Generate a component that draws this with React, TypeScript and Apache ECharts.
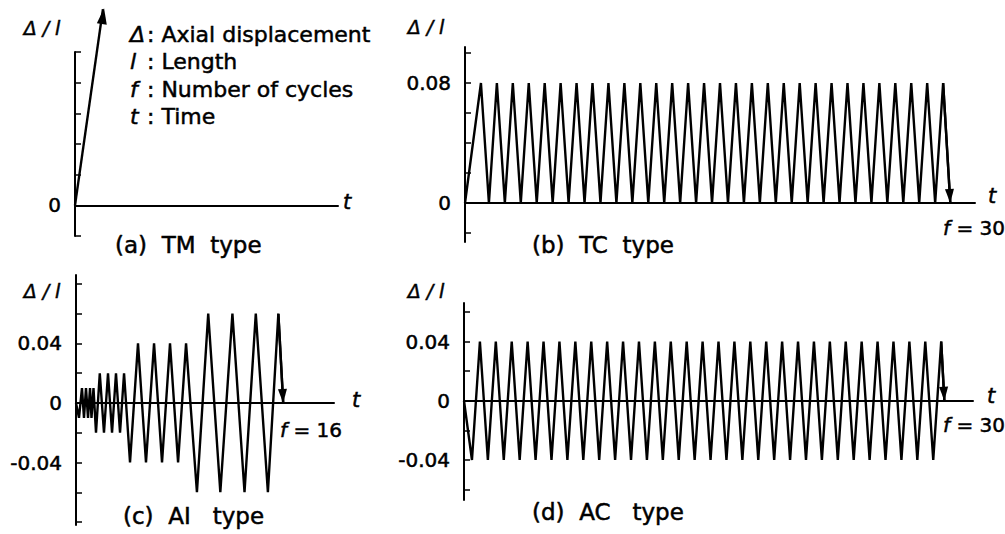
import React, { useEffect, useRef } from 'react';
import * as echarts from 'echarts';

const FONT = '"DejaVu Sans", "Liberation Sans", sans-serif';

// (a) TM type: monotonic loading
const tmTime = [0, 3.4];
const tmValue = [0, 6.4];

// (b) TC type: tension cyclic, 30 cycles between 0 and 0.08
const tcTime = [0, 1, 1.5, 2, 2.5, 3, 3.5, 4, 4.5, 5, 5.5, 6, 6.5, 7, 7.5, 8, 8.5, 9, 9.5, 10, 10.5, 11, 11.5, 12, 12.5, 13, 13.5, 14, 14.5, 15, 15.5, 16, 16.5, 17, 17.5, 18, 18.5, 19, 19.5, 20, 20.5, 21, 21.5, 22, 22.5, 23, 23.5, 24, 24.5, 25, 25.5, 26, 26.5, 27, 27.5, 28, 28.5, 29, 29.5, 30, 30.45];
const tcValue = [0, 0.08, 0, 0.08, 0, 0.08, 0, 0.08, 0, 0.08, 0, 0.08, 0, 0.08, 0, 0.08, 0, 0.08, 0, 0.08, 0, 0.08, 0, 0.08, 0, 0.08, 0, 0.08, 0, 0.08, 0, 0.08, 0, 0.08, 0, 0.08, 0, 0.08, 0, 0.08, 0, 0.08, 0, 0.08, 0, 0.08, 0, 0.08, 0, 0.08, 0, 0.08, 0, 0.08, 0, 0.08, 0, 0.08, 0, 0.08, 0];

// (c) AI type: amplitude increasing, 16 cycles
const aiTime = [0, 0.37, 0.74, 0.99, 1.24, 1.49, 1.74, 1.92, 2.17, 2.48, 2.95, 3.47, 3.97, 4.47, 4.96, 5.46, 5.96, 6.7, 7.69, 8.68, 9.68, 10.67, 11.66, 12.66, 13.65, 15.0, 16.4, 17.9, 19.4, 20.9, 22.3, 23.8, 25.1, 25.7];
const aiValue = [0, -0.01, 0.01, -0.01, 0.01, -0.01, 0.01, -0.01, 0.01, -0.02, 0.02, -0.02, 0.02, -0.02, 0.02, -0.02, 0.02, -0.04, 0.04, -0.04, 0.04, -0.04, 0.04, -0.04, 0.04, -0.06, 0.06, -0.06, 0.06, -0.06, 0.06, -0.06, 0.06, 0];

// (d) AC type: alternating cyclic, 30 cycles between -0.04 and 0.04
const acTime = [0, 0.5, 1, 1.5, 2, 2.5, 3, 3.5, 4, 4.5, 5, 5.5, 6, 6.5, 7, 7.5, 8, 8.5, 9, 9.5, 10, 10.5, 11, 11.5, 12, 12.5, 13, 13.5, 14, 14.5, 15, 15.5, 16, 16.5, 17, 17.5, 18, 18.5, 19, 19.5, 20, 20.5, 21, 21.5, 22, 22.5, 23, 23.5, 24, 24.5, 25, 25.5, 26, 26.5, 27, 27.5, 28, 28.5, 29, 29.5, 30, 30.2];
const acValue = [0, -0.04, 0.04, -0.04, 0.04, -0.04, 0.04, -0.04, 0.04, -0.04, 0.04, -0.04, 0.04, -0.04, 0.04, -0.04, 0.04, -0.04, 0.04, -0.04, 0.04, -0.04, 0.04, -0.04, 0.04, -0.04, 0.04, -0.04, 0.04, -0.04, 0.04, -0.04, 0.04, -0.04, 0.04, -0.04, 0.04, -0.04, 0.04, -0.04, 0.04, -0.04, 0.04, -0.04, 0.04, -0.04, 0.04, -0.04, 0.04, -0.04, 0.04, -0.04, 0.04, -0.04, 0.04, -0.04, 0.04, -0.04, 0.04, -0.04, 0.04, 0];

// axis ticks and labels
const tmTicks = [-1, 0, 1, 2, 3, 4, 5];
const tmLabels = [0];
const tcTicks = [-0.02, 0, 0.02, 0.04, 0.06, 0.08, 0.1];
const tcLabels = [0, 0.08];
const aiTicks = [-0.08, -0.06, -0.04, -0.02, 0, 0.02, 0.04, 0.06, 0.08];
const aiLabels = [-0.04, 0, 0.04];
const acTicks = [-0.06, -0.04, -0.02, 0, 0.02, 0.04, 0.06];
const acLabels = [-0.04, 0, 0.04];

const captions = ['(a)  TM  type', '(b)  TC  type', '(c)  AI   type', '(d)  AC   type'];
const legendSymbols = ['Δ', 'l', 'f', 't'];
const legendTexts = ['Axial displacement', 'Length', 'Number of cycles', 'Time'];
const cycleLabels = ['30', '16', '30'];

const grids = [
  { left: 75, top: 52, width: 263, height: 184 },
  { left: 465, top: 47, width: 510, height: 195 },
  { left: 76, top: 275, width: 258, height: 250 },
  { left: 464, top: 303, width: 509, height: 197 },
];
const yRanges = [
  [-1, 5],
  [-0.026, 0.104],
  [-0.082, 0.086],
  [-0.067, 0.066],
];
const tickSets = [tmTicks, tcTicks, aiTicks, acTicks];
const labelSets = [tmLabels, tcLabels, aiLabels, acLabels];

const LINE_W = 2.4;

function makeSeries(idx: number, times: number[], values: number[]) {
  const n = times.length;
  return {
    type: 'line',
    xAxisIndex: idx,
    yAxisIndex: idx,
    data: times.map((t, i) => [t, values[i]]),
    showSymbol: false,
    symbol: 'none',
    clip: false,
    silent: true,
    lineStyle: { color: '#000', width: LINE_W },
    markLine: {
      silent: true,
      animation: false,
      symbol: ['none', 'triangle'],
      symbolSize: [9, 14],
      symbolOffset: [[0, 0], [0, 7]],
      label: { show: false },
      emphasis: { disabled: true },
      lineStyle: { color: '#000', width: LINE_W, type: 'solid' },
      data: [[{ coord: [times[n - 2], values[n - 2]] }, { coord: [times[n - 1], values[n - 1]] }]],
    },
  };
}

// the TM arrow rises above its axis, so its head is the end point's own symbol
function makeTmSeries() {
  const n = tmTime.length;
  return {
    type: 'line',
    xAxisIndex: 0,
    yAxisIndex: 0,
    showSymbol: true,
    symbol: 'none',
    clip: false,
    silent: true,
    lineStyle: { color: '#000', width: LINE_W },
    itemStyle: { color: '#000' },
    data: tmTime.map((t, i) =>
      i === n - 1
        ? { value: [t, tmValue[i]], symbol: 'triangle', symbolSize: [10, 16], symbolRotate: -8, symbolOffset: [0, 7] }
        : { value: [t, tmValue[i]], symbol: 'none' }
    ),
  };
}

function txt(text: string, x: number, y: number, size: number, italic = false, align = 'left') {
  return {
    type: 'text',
    x,
    y,
    silent: true,
    style: {
      text,
      fill: '#000',
      stroke: '#000',
      lineWidth: 0.5,
      fontFamily: FONT,
      fontSize: size,
      fontStyle: italic ? 'italic' : 'normal',
      align,
      verticalAlign: 'middle',
    },
  };
}

function fLabel(value: string, x: number, y: number) {
  return {
    type: 'text',
    x,
    y,
    silent: true,
    style: {
      text: '{i|f}{n| = ' + value + '}',
      fill: '#000',
      stroke: '#000',
      lineWidth: 0.5,
      fontFamily: FONT,
      fontSize: 20,
      verticalAlign: 'middle',
      rich: {
        i: { fontFamily: FONT, fontSize: 20, fontStyle: 'italic', fill: '#000', stroke: '#000', lineWidth: 0.5 },
        n: { fontFamily: FONT, fontSize: 20, fill: '#000', stroke: '#000', lineWidth: 0.5 },
      },
    },
  };
}

const option = {
  animation: false,
  backgroundColor: '#fff',
  grid: grids.map((g) => ({ ...g, containLabel: false, outerBoundsMode: 'none' })),
  xAxis: grids.map((_, i) => ({
    type: 'value',
    gridIndex: i,
    min: 0,
    max: 32,
    axisLine: { show: true, onZero: true, lineStyle: { color: '#000', width: 2 } },
    axisTick: { show: false },
    axisLabel: { show: false },
    splitLine: { show: false },
  })),
  yAxis: grids.map((_, i) => ({
    type: 'value',
    gridIndex: i,
    min: yRanges[i][0],
    max: yRanges[i][1],
    axisLine: { show: true, onZero: false, lineStyle: { color: '#000', width: 2 } },
    axisTick: {
      show: true,
      inside: true,
      length: 6,
      lineStyle: { color: '#000', width: 1.5 },
      customValues: tickSets[i],
    },
    axisLabel: {
      show: true,
      customValues: labelSets[i],
      margin: 14,
      color: '#000',
      fontFamily: FONT,
      fontSize: 20,
      textBorderColor: '#000',
      textBorderWidth: 0.5,
    },
    splitLine: { show: false },
  })),
  series: [
    makeTmSeries(),
    makeSeries(1, tcTime, tcValue),
    makeSeries(2, aiTime, aiValue),
    makeSeries(3, acTime, acValue),
  ],
  graphic: [
    // y-axis titles
    txt('Δ / l', 42, 28, 19, true, 'center'),
    txt('Δ / l', 426, 27, 19, true, 'center'),
    txt('Δ / l', 42, 291, 19, true, 'center'),
    txt('Δ / l', 426, 291, 19, true, 'center'),
    // time axis names
    txt('t', 347, 202, 21, true, 'center'),
    txt('t', 992, 196, 21, true, 'center'),
    txt('t', 356, 400, 21, true, 'center'),
    txt('t', 991, 396, 21, true, 'center'),
    // cycle counts
    fLabel(cycleLabels[0], 943, 228),
    fLabel(cycleLabels[1], 280, 430),
    fLabel(cycleLabels[2], 943, 425),
    // captions
    txt(captions[0], 115, 245, 23),
    txt(captions[1], 532, 245, 23),
    txt(captions[2], 123, 516, 23),
    txt(captions[3], 532, 512, 23),
    // legend
    ...legendSymbols.map((s, i) => txt(s, 130, 34.5 + i * 27.3, 22, true)),
    ...legendTexts.map((s, i) => txt(': ' + s, 147, 34.5 + i * 27.3, 22)),
  ],
};

export default function App() {
  const ref = useRef<HTMLDivElement>(null);
  useEffect(() => {
    const chart = echarts.init(ref.current as HTMLDivElement, null, { renderer: 'svg' });
    chart.setOption(option as any);
    return () => chart.dispose();
  }, []);
  return (
    <div
      ref={ref}
      style={{ position: 'fixed', left: 0, top: 0, width: 1005, height: 534, background: '#fff' }}
    />
  );
}
